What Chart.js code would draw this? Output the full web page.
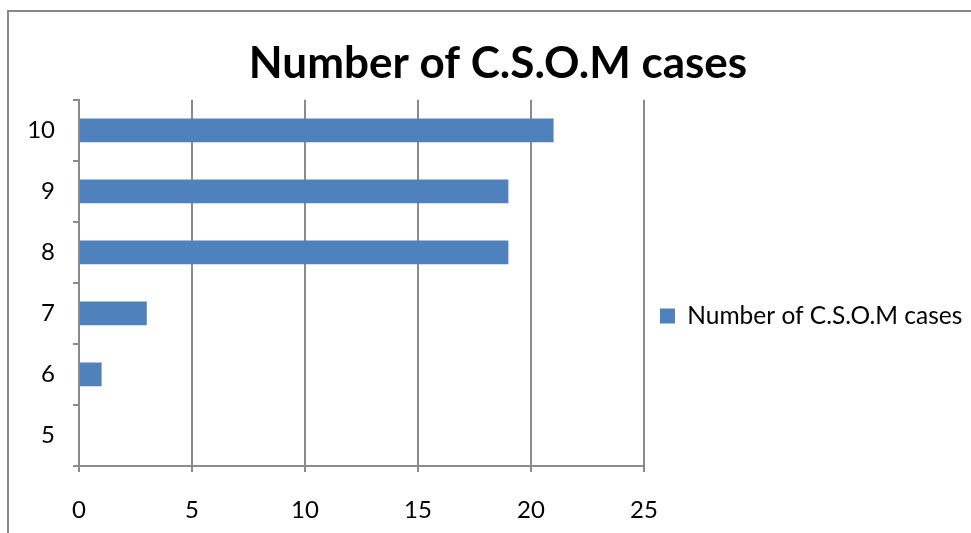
<!DOCTYPE html>
<html>
<head>
<meta charset="utf-8">
<script src="https://cdn.jsdelivr.net/npm/chart.js@4/dist/chart.umd.min.js"></script>
<style>
html,body{margin:0;padding:0;background:#fff;}
#wrap{position:relative;width:971px;height:533px;}
</style>
</head>
<body>
<div id="wrap"><canvas id="c" width="971" height="533"></canvas></div>
<script>
const categories = ['5', '6', '7', '8', '9', '10'];
const caseCounts = [0, 1, 3, 19, 19, 21];
const seriesName = 'Number of C.S.O.M cases';
const chartTitle = 'Number of C.S.O.M cases';
const xTickMin = 0, xTickMax = 25, xTickStep = 5;

const FONT = 'Lato, "Open Sans", sans-serif';
const GRID = '#8a8a8a';

const framePlugin = {
  id: 'frame',
  beforeDraw(chart) {
    const ctx = chart.ctx;
    ctx.save();
    ctx.fillStyle = '#fff';
    ctx.fillRect(0, 0, chart.width, chart.height);
    ctx.strokeStyle = '#888888';
    ctx.lineWidth = 2;
    ctx.strokeRect(8, 11, 1000, 600);
    ctx.restore();
  },
  afterLayout(chart) {
    // centre the title over the whole chart frame, as in the reference
    const t = chart.titleBlock;
    if (t) { t.left = 36; t.right = 960; t.width = 924; }
  }
};

function build() {
  new Chart(document.getElementById('c'), {
    type: 'bar',
    data: {
      labels: categories,
      datasets: [{
        label: seriesName,
        data: caseCounts,
        backgroundColor: '#4F81BD',
        borderWidth: 0,
        categoryPercentage: 1,
        barPercentage: 0.39
      }]
    },
    options: {
      indexAxis: 'y',
      responsive: false,
      animation: false,
      layout: { padding: { top: 37, left: 22, right: 4, bottom: 8 } },
      plugins: {
        title: {
          display: true,
          text: chartTitle,
          color: '#000',
          font: { family: FONT, size: 44, weight: 'bold' },
          padding: { top: 0, bottom: 10 }
        },
        legend: {
          position: 'right',
          maxWidth: 323,
          title: {
            display: true,
            text: '',
            font: { family: FONT, size: 10 },
            padding: { top: 58, bottom: 0 }
          },
          labels: {
            color: '#000',
            font: { family: FONT, size: 24.5 },
            boxWidth: 15,
            boxHeight: 15,
            padding: 16
          }
        },
        tooltip: { enabled: false }
      },
      scales: {
        y: {
          reverse: true,
          afterFit(scale) { scale.width = 57; },
          grid: { display: true, drawOnChartArea: false, offset: true, color: GRID, tickLength: 6, lineWidth: 2 },
          border: { color: GRID, width: 2 },
          ticks: { color: '#000', font: { family: FONT, size: 24 }, padding: 18 }
        },
        x: {
          min: xTickMin,
          max: xTickMax,
          afterFit(scale) { scale.height = 59; },
          ticks: { stepSize: xTickStep, color: '#000', font: { family: FONT, size: 24 }, padding: 24, maxRotation: 0 },
          grid: { color: GRID, tickLength: 6, lineWidth: 2 },
          border: { color: GRID, width: 2 }
        }
      }
    },
    plugins: [framePlugin]
  });
}

Promise.all([
  document.fonts.load('24px Lato'),
  document.fonts.load('bold 44px Lato')
]).then(build, build);
</script>
</body>
</html>
